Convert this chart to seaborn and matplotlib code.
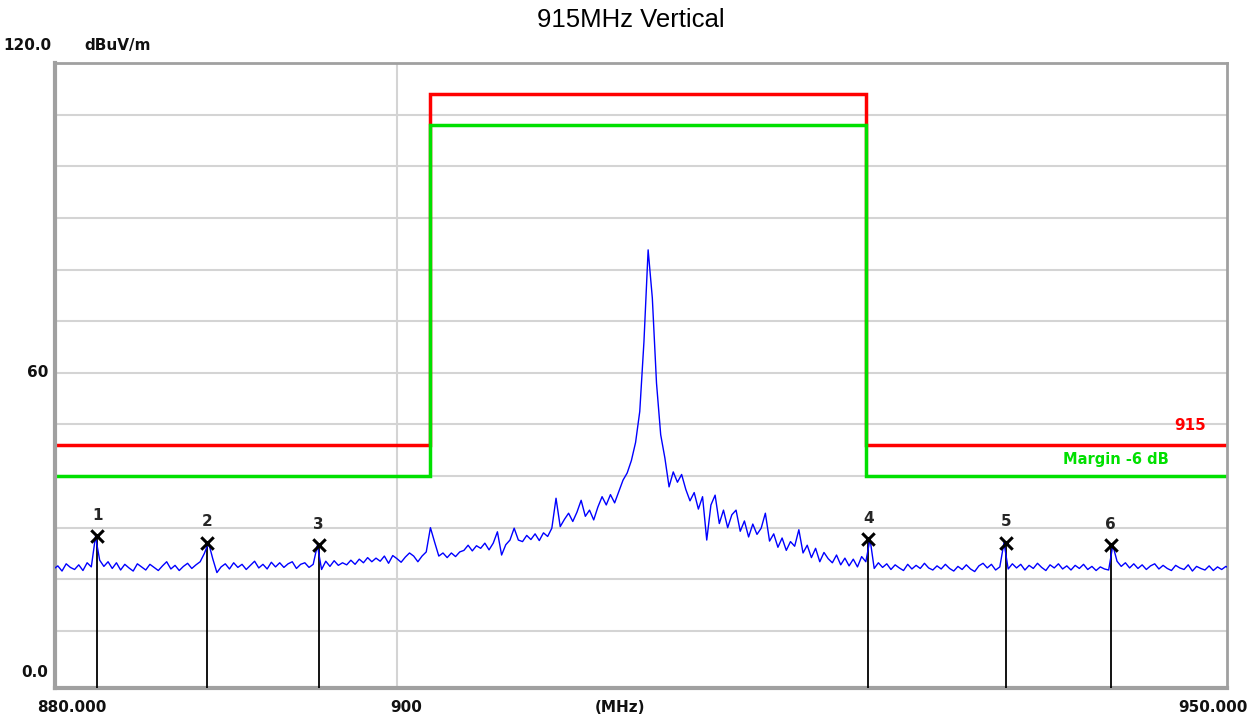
import numpy as np
import pandas as pd
import matplotlib
matplotlib.use('Agg')
import matplotlib.pyplot as plt
import seaborn as sns

# Sweep: 879.5 .. 949.75 MHz, 0.25 MHz step, levels in dBuV/m
sweep_start = 879.5
sweep_stop = 949.75
levels = [
    22.0, 22.6,
    21.6, 23.0, 22.3, 21.9,   # 880
    22.8, 21.7, 23.2, 22.4,   # 881
    28.3, 23.7, 22.5, 23.4,   # 882
    22.1, 23.2, 21.8, 22.9,   # 883
    22.2, 21.6, 23.0, 22.4,   # 884
    21.8, 22.9, 22.3, 21.7,   # 885
    22.6, 23.4, 22.0, 22.7,   # 886
    21.7, 22.5, 23.1, 22.1,   # 887
    22.8, 23.4, 25.0, 27.1,   # 888
    24.0, 21.3, 22.4, 23.0,   # 889
    22.0, 23.2, 22.3, 22.9,   # 890
    21.9, 22.7, 23.5, 22.2,   # 891
    22.9, 22.0, 23.3, 22.4,   # 892
    23.2, 22.3, 23.0, 23.4,   # 893
    22.1, 22.9, 23.2, 22.3,   # 894
    22.9, 26.6, 21.9, 23.5,   # 895
    22.5, 23.6, 22.7, 23.2,   # 896
    22.8, 23.7, 22.9, 23.9,   # 897
    23.2, 24.2, 23.4, 24.1,   # 898
    23.5, 24.5, 23.1, 24.6,   # 899
    24.0, 23.3, 24.3, 25.1,   # 900
    24.5, 23.4, 24.5, 25.3,   # 901
    30.0, 27.2, 24.5, 25.1,   # 902
    24.2, 25.1, 24.4, 25.3,   # 903
    25.6, 26.6, 25.5, 26.5,   # 904
    26.0, 27.0, 25.7, 27.0,   # 905
    29.2, 24.7, 26.7, 27.6,   # 906
    29.9, 27.6, 27.3, 28.5,   # 907
    27.7, 28.8, 27.5, 29.0,   # 908
    28.3, 29.9, 35.7, 30.2,   # 909
    31.6, 32.8, 31.2, 33.0,   # 910
    35.3, 32.2, 33.4, 31.5,   # 911
    34.0, 36.0, 34.4, 36.4,   # 912
    34.8, 37.0, 39.2, 40.6,   # 913
    43.0, 46.5, 52.5, 66.0,   # 914
    83.8, 74.5, 58.0, 48.0,   # 915
    43.5, 37.9, 40.8, 38.8,   # 916
    40.3, 37.4, 35.2, 36.8,   # 917
    33.6, 36.0, 27.6, 34.4,   # 918
    36.3, 30.8, 33.4, 30.0,   # 919
    32.5, 33.4, 29.3, 31.3,   # 920
    28.2, 30.7, 28.7, 29.9,   # 921
    32.8, 27.4, 28.8, 26.2,   # 922
    28.0, 25.6, 27.3, 26.4,   # 923
    29.6, 25.1, 26.6, 24.2,   # 924
    26.0, 23.4, 25.2, 24.0,   # 925
    23.2, 24.7, 22.8, 24.1,   # 926
    22.6, 23.9, 22.4, 24.4,   # 927
    23.4, 27.8, 22.1, 23.2,   # 928
    22.3, 23.0, 21.9, 22.8,   # 929
    22.2, 21.7, 22.9, 22.0,   # 930
    22.7, 22.1, 23.1, 22.2,   # 931
    21.8, 22.6, 22.0, 22.9,   # 932
    22.1, 21.6, 22.5, 21.9,   # 933
    22.8, 22.0, 21.5, 22.6,   # 934
    23.1, 22.2, 22.9, 21.8,   # 935
    22.4, 27.1, 22.0, 23.0,   # 936
    22.2, 22.9, 21.8, 22.7,   # 937
    22.1, 23.1, 22.3, 21.7,   # 938
    22.8, 22.2, 23.0, 22.0,   # 939
    22.6, 21.8, 22.7, 22.1,   # 940
    22.9, 21.9, 22.5, 21.7,   # 941
    22.4, 22.0, 21.8, 26.6,   # 942
    23.5, 22.5, 23.2, 22.2,   # 943
    23.0, 22.1, 22.8, 21.9,   # 944
    22.6, 23.0, 22.0, 22.7,   # 945
    22.1, 21.7, 22.7, 22.2,   # 946
    21.9, 22.8, 21.6, 22.5,   # 947
    22.1, 21.8, 22.6, 21.7,   # 948
    22.4, 21.9, 22.5, 22.0,   # 949
]
freq = np.linspace(sweep_start, sweep_stop, len(levels))

# Markers
marker_ids = ['1', '2', '3', '4', '5', '6']
marker_freq = [882.11, 888.66, 895.32, 928.14, 936.36, 942.63]
marker_level = [28.3, 27.1, 26.6, 27.8, 27.1, 26.6]

# Limit line "915" and margin
limit_edges = [879.58, 902, 928, 949.57]
limit_915 = [46, 114, 46]
margin_db = 6

trace = pd.DataFrame({'MHz': freq, 'level': levels})
mk = pd.DataFrame({'MHz': marker_freq, 'level': marker_level, 'id': marker_ids})

sns.set_style('white')
plt.rcParams['font.family'] = ['DejaVu Sans']

fig = plt.figure(figsize=(12.58, 7.18), dpi=100)
ax = fig.add_axes([0.0437, 0.0418, 0.9317, 0.8705])

xmin, xmax = 879.58, 949.57
ymin, ymax = -1.05, 120
ax.set_xlim(xmin, xmax)
ax.set_ylim(ymin, ymax)

# grid
for yv in range(10, 120, 10):
    ax.axhline(yv, color='#d4d4d4', lw=1.5, zorder=0)
ax.axvline(900, color='#d4d4d4', lw=1.5, zorder=0)

# limit lines
ax.stairs(limit_915, limit_edges, color='#ff0000', lw=2.5, baseline=None, zorder=2)
ax.stairs([v - margin_db for v in limit_915], limit_edges, color='#00e000', lw=2.5,
          baseline=None, zorder=2)

# marker stems
ax.vlines(marker_freq, ymin, marker_level, color='black', lw=1.3, zorder=3)

sns.lineplot(data=trace, x='MHz', y='level', ax=ax, color='#0000ff', lw=1,
             sort=False, estimator=None, zorder=4)

sns.scatterplot(data=mk, x='MHz', y='level', ax=ax, marker='x', color='black',
                s=80, linewidth=2.2, zorder=5)
for f, lv, t in zip(marker_freq, marker_level, marker_ids):
    ax.annotate(t, (f, lv), xytext=(0, 15), textcoords='offset points',
                ha='center', va='center', fontsize=11, fontweight='bold', zorder=6)

ax.text(948.3, 49.7, '915', color='#ff0000', fontsize=11, fontweight='bold',
        ha='right', va='center')
ax.text(946.1, 43.2, 'Margin -6 dB', color='#00e000', fontsize=10.5,
        fontweight='bold', ha='right', va='center')

# frame
for s in ax.spines.values():
    s.set_color('#a0a0a0')
    s.set_linewidth(2)
ax.spines['left'].set_linewidth(3)
ax.spines['bottom'].set_linewidth(3)

ax.set_xticks([])
ax.set_yticks([])
ax.set_xlabel('')
ax.set_ylabel('')

lab = dict(fontsize=11, fontweight='bold', color='#111111')
tr = ax.get_yaxis_transform()
ax.text(-0.003, 123.3, '120.0', transform=tr, ha='right', va='center', **lab)
ax.text(0.025, 123.3, 'dBuV/m', transform=tr, ha='left', va='center', **lab)
ax.text(-0.006, 60, '60', transform=tr, ha='right', va='center', **lab)
ax.text(-0.006, 2.0, '0.0', transform=tr, ha='right', va='center', **lab)

tx = ax.get_xaxis_transform()
ax.text(880.6, -0.02, '880.000', transform=tx, ha='center', va='top', **lab)
ax.text(899.6, -0.02, '900', transform=tx, ha='left', va='top', **lab)
ax.text(913.3, -0.02, '(MHz)', transform=tx, ha='center', va='top', **lab)
ax.text(xmax + 1.2, -0.02, '950.000', transform=tx, ha='right', va='top', **lab)

fig.text(0.5015, 0.972, '915MHz Vertical', ha='center', va='center',
         fontsize=18.5, color='black', family='Liberation Sans')

fig.savefig('out.png', dpi=100)
